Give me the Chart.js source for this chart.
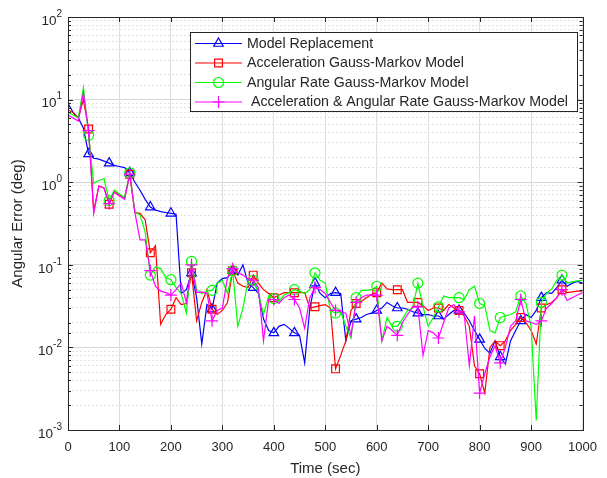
<!DOCTYPE html>
<html>
<head>
<meta charset="utf-8">
<title>Angular Error</title>
<script src="https://cdn.jsdelivr.net/npm/chart.js@4.4.1/dist/chart.umd.min.js"></script>
<style>
  html, body { margin: 0; padding: 0; background: #fff; }
  #err-angle { display: block; }
</style>
</head>
<body>
<canvas id="err-angle" width="607" height="478"></canvas>
<script>
// temps (sec)
const temps = [0, 10, 20, 30, 40, 50, 60, 70, 80, 90,
  100, 110, 120, 130, 140, 150, 160, 170, 180, 190,
  200, 210, 220, 230, 240, 250, 260, 270, 280, 290,
  300, 310, 320, 330, 340, 350, 360, 370, 380, 390,
  400, 410, 420, 430, 440, 450, 460, 470, 480, 490,
  500, 510, 520, 530, 540, 550, 560, 570, 580, 590,
  600, 610, 620, 630, 640, 650, 660, 670, 680, 690,
  700, 710, 720, 730, 740, 750, 760, 770, 780, 790,
  800, 810, 820, 830, 840, 850, 860, 870, 880, 890,
  900, 910, 920, 930, 940, 950, 960, 970, 980, 990,
  1000];

// Model Replacement
const remplacement = [9, 7, 6, 4.5, 2.2, 1.95, 1.9, 1.8, 1.7, 1.6,
  1.55, 1.5, 1.3, 1.0, 0.8, 0.62, 0.5, 0.46, 0.44, 0.43,
  0.42, 0.41, 0.045, 0.05, 0.08, 0.04, 0.011, 0.033, 0.029, 0.06,
  0.068, 0.07, 0.085, 0.075, 0.1, 0.06, 0.053, 0.045, 0.022, 0.016,
  0.015, 0.018, 0.019, 0.017, 0.015, 0.014, 0.0065, 0.03, 0.06, 0.045,
  0.04, 0.045, 0.046, 0.045, 0.012, 0.021, 0.022, 0.023, 0.025, 0.026,
  0.028, 0.03, 0.035, 0.032, 0.03, 0.03, 0.029, 0.027, 0.026, 0.025,
  0.025, 0.024, 0.024, 0.022, 0.025, 0.028, 0.028, 0.026, 0.021, 0.016,
  0.0125, 0.0097, 0.0085, 0.012, 0.0077, 0.0063, 0.012, 0.016, 0.021, 0.025,
  0.023, 0.028, 0.04, 0.046, 0.045, 0.053, 0.065, 0.055, 0.06, 0.063,
  0.06];

// Acceleration Gauss-Markov
const accelGM = [7.5, 7, 6, 10, 4.4, 0.45, 0.9, 0.85, 0.54, 0.78,
  0.7, 0.64, 1.25, 0.43, 0.42, 0.35, 0.14, 0.17, 0.019, 0.025,
  0.029, 0.04, 0.033, 0.034, 0.08, 0.021, 0.035, 0.05, 0.029, 0.025,
  0.028, 0.035, 0.085, 0.06, 0.055, 0.053, 0.075, 0.06, 0.05, 0.045,
  0.04, 0.043, 0.046, 0.046, 0.046, 0.046, 0.046, 0.03, 0.031, 0.032,
  0.033, 0.03, 0.0055, 0.008, 0.012, 0.028, 0.034, 0.036, 0.04, 0.044,
  0.046, 0.06, 0.051, 0.05, 0.05, 0.05, 0.035, 0.035, 0.035, 0.032,
  0.028, 0.03, 0.03, 0.028, 0.033, 0.03, 0.028, 0.024, 0.018, 0.006,
  0.0048, 0.0028, 0.01, 0.012, 0.0105, 0.012, 0.016, 0.019, 0.023, 0.02,
  0.016, 0.011, 0.03, 0.033, 0.035, 0.04, 0.05, 0.046, 0.047, 0.048,
  0.048];

// Angular Rate Gauss-Markov
const vitesseGM = [7, 6.5, 6, 14, 3.7, 0.97, 1.05, 1.1, 0.6, 0.8,
  0.72, 0.65, 1.3, 0.43, 0.4, 0.25, 0.075, 0.095, 0.09, 0.07,
  0.066, 0.053, 0.045, 0.026, 0.11, 0.05, 0.045, 0.048, 0.049, 0.06,
  0.065, 0.045, 0.085, 0.018, 0.03, 0.065, 0.065, 0.046, 0.025, 0.042,
  0.039, 0.036, 0.043, 0.046, 0.05, 0.048, 0.045, 0.05, 0.08, 0.065,
  0.06, 0.028, 0.026, 0.027, 0.018, 0.013, 0.04, 0.049, 0.049, 0.05,
  0.055, 0.012, 0.023, 0.018, 0.018, 0.022, 0.028, 0.03, 0.06, 0.031,
  0.018, 0.023, 0.031, 0.042, 0.04, 0.04, 0.04, 0.038, 0.05, 0.055,
  0.034, 0.032, 0.016, 0.015, 0.023, 0.024, 0.025, 0.027, 0.042, 0.034,
  0.018, 0.0013, 0.035, 0.045, 0.051, 0.065, 0.075, 0.06, 0.062, 0.064,
  0.065];

// Acceleration & Angular Rate Gauss-Markov
const mixteGM = [6.5, 6, 5.5, 12, 4.2, 0.42, 0.9, 0.85, 0.55, 0.75,
  0.68, 0.62, 1.25, 0.43, 0.2, 0.2, 0.085, 0.055, 0.048, 0.046,
  0.043, 0.05, 0.06, 0.035, 0.1, 0.046, 0.047, 0.045, 0.021, 0.028,
  0.03, 0.07, 0.09, 0.08, 0.075, 0.068, 0.065, 0.053, 0.012, 0.038,
  0.038, 0.034, 0.04, 0.043, 0.038, 0.03, 0.017, 0.04, 0.053, 0.05,
  0.045, 0.035, 0.028, 0.027, 0.026, 0.014, 0.035, 0.04, 0.043, 0.043,
  0.043, 0.012, 0.018, 0.016, 0.014, 0.02, 0.025, 0.031, 0.031, 0.008,
  0.016, 0.015, 0.013, 0.02, 0.03, 0.033, 0.027, 0.025, 0.006, 0.024,
  0.0028, 0.0048, 0.0077, 0.0105, 0.0065, 0.01, 0.018, 0.021, 0.038, 0.021,
  0.02, 0.019, 0.021, 0.03, 0.034, 0.04, 0.05, 0.037, 0.04, 0.043,
  0.046];

const decades = [-3, -2, -1, 0, 1, 2];
const xTicks = [0, 100, 200, 300, 400, 500, 600, 700, 800, 900, 1000];

const police = '"Liberation Sans", Arial, Helvetica, sans-serif';
const gris = '#262626';

function serie(label, valeurs, couleur, style, rayon, ordre) {
  return {
    label: label,
    data: valeurs.map((v, i) => ({ x: temps[i], y: v })),
    borderColor: couleur,
    backgroundColor: 'rgba(0,0,0,0)',
    borderWidth: 1.2,
    pointStyle: style,
    pointBorderColor: couleur,
    pointBackgroundColor: 'rgba(0,0,0,0)',
    pointBorderWidth: 1.2,
    pointRadius: ctx => {
      const t = temps[ctx.dataIndex];
      return (t > 0 && t < 1000 && t % 40 === 0) ? rayon : 0;
    },
    legendRadius: rayon,
    tension: 0,
    order: ordre
  };
}

function estDecade(v) {
  const l = Math.log10(v);
  return Math.abs(l - Math.round(l)) < 1e-6;
}

// etiquettes 10^n de l'axe y
const etiquettesY = {
  id: 'etiquettesY',
  afterDraw(chart) {
    const ctx = chart.ctx;
    const sy = chart.scales.y;
    ctx.save();
    ctx.fillStyle = gris;
    ctx.textAlign = 'right';
    ctx.textBaseline = 'middle';
    decades.forEach(e => {
      const y = sy.getPixelForValue(Math.pow(10, e));
      const exp = String(e);
      ctx.font = '10px ' + police;
      const ew = ctx.measureText(exp).width;
      ctx.fillText(exp, 62, y - 3);
      ctx.font = '13.5px ' + police;
      ctx.fillText('10', 62 - ew, y + 4);
    });
    ctx.restore();
  }
};

// cadre et graduations interieures
const cadre = {
  id: 'cadre',
  afterDatasetsDraw(chart) {
    const ctx = chart.ctx;
    const a = chart.chartArea;
    const sx = chart.scales.x, sy = chart.scales.y;
    ctx.save();
    ctx.strokeStyle = gris;
    ctx.lineWidth = 1;
    ctx.beginPath();
    sy.ticks.forEach(tk => {
      const y = Math.round(sy.getPixelForValue(tk.value)) + 0.5;
      const l = estDecade(tk.value) ? 5 : 3;
      ctx.moveTo(a.left, y); ctx.lineTo(a.left + l, y);
      ctx.moveTo(a.right, y); ctx.lineTo(a.right - l, y);
    });
    xTicks.forEach(t => {
      const x = Math.round(sx.getPixelForValue(t)) + 0.5;
      ctx.moveTo(x, a.bottom); ctx.lineTo(x, a.bottom - 5);
      ctx.moveTo(x, a.top); ctx.lineTo(x, a.top + 5);
    });
    ctx.stroke();
    ctx.strokeRect(Math.round(a.left) + 0.5, Math.round(a.top) + 0.5,
      Math.round(a.right - a.left), Math.round(a.bottom - a.top));
    ctx.restore();
  }
};

// legende dans le graphe
const legendeInterne = {
  id: 'legendeInterne',
  afterDraw(chart) {
    const ctx = chart.ctx;
    ctx.save();
    ctx.fillStyle = '#fff';
    ctx.fillRect(190, 32, 387, 79);
    ctx.strokeStyle = gris;
    ctx.lineWidth = 1;
    ctx.strokeRect(190.5, 32.5, 387, 79);
    chart.data.datasets.forEach((ds, i) => {
      const y = 43.5 + i * 19.5;
      ctx.strokeStyle = ds.borderColor;
      ctx.lineWidth = 1.2;
      ctx.beginPath();
      ctx.moveTo(195, y);
      ctx.lineTo(242, y);
      ctx.stroke();
      ctx.fillStyle = 'rgba(0,0,0,0)';
      Chart.helpers.drawPoint(ctx, {
        pointStyle: ds.pointStyle, radius: ds.legendRadius, borderWidth: 1.2, rotation: 0
      }, 218.5, y);
      ctx.fillStyle = gris;
      ctx.font = '14.2px ' + police;
      ctx.textAlign = 'left';
      ctx.textBaseline = 'middle';
      ctx.fillText(ds.label, 247, y + 0.5);
    });
    ctx.restore();
  }
};

const graphe = document.getElementById('err-angle');

new Chart(graphe, {
  type: 'line',
  data: {
    datasets: [
      serie('Model Replacement', remplacement, '#0000ff', 'triangle', 5.5, 3),
      serie('Acceleration Gauss-Markov Model', accelGM, '#ff0000', 'rect', 5.5, 2),
      serie('Angular Rate Gauss-Markov Model', vitesseGM, '#00ff00', 'circle', 5, 1),
      serie(' Acceleration & Angular Rate Gauss-Markov Model', mixteGM, '#ff00ff', 'cross', 6, 0)
    ]
  },
  options: {
    responsive: false,
    animation: false,
    events: [],
    layout: { padding: { top: 17, right: 19, left: 0, bottom: 0 } },
    plugins: {
      legend: { display: false },
      tooltip: { enabled: false }
    },
    scales: {
      x: {
        type: 'linear',
        min: 0,
        max: 1000,
        afterFit: s => { s.height = 48; },
        afterBuildTicks: s => { s.ticks = xTicks.map(v => ({ value: v })); },
        ticks: {
          padding: 10,
          color: gris,
          font: { family: police, size: 13 },
          maxRotation: 0,
          callback: v => String(v)
        },
        grid: { color: '#dedede', drawTicks: false },
        border: { display: false },
        title: {
          display: true,
          text: 'Time (sec)',
          color: gris,
          font: { family: police, size: 15 },
          padding: { top: 1, bottom: 0 }
        }
      },
      y: {
        type: 'logarithmic',
        min: 0.001,
        max: 100,
        afterFit: s => { s.width = 68; },
        ticks: { display: false, autoSkip: false },
        grid: {
          drawTicks: false,
          color: ctx => (ctx.tick && estDecade(ctx.tick.value)) ? '#d6d6d6' : '#e2e2e2'
        },
        border: {
          display: false,
          dash: ctx => (ctx.tick && !estDecade(ctx.tick.value)) ? [2, 2] : []
        },
        title: {
          display: true,
          text: 'Angular Error (deg)',
          color: gris,
          font: { family: police, size: 15 },
          padding: { top: 9, bottom: 0 }
        }
      }
    }
  },
  plugins: [cadre, etiquettesY, legendeInterne]
});
</script>
</body>
</html>
